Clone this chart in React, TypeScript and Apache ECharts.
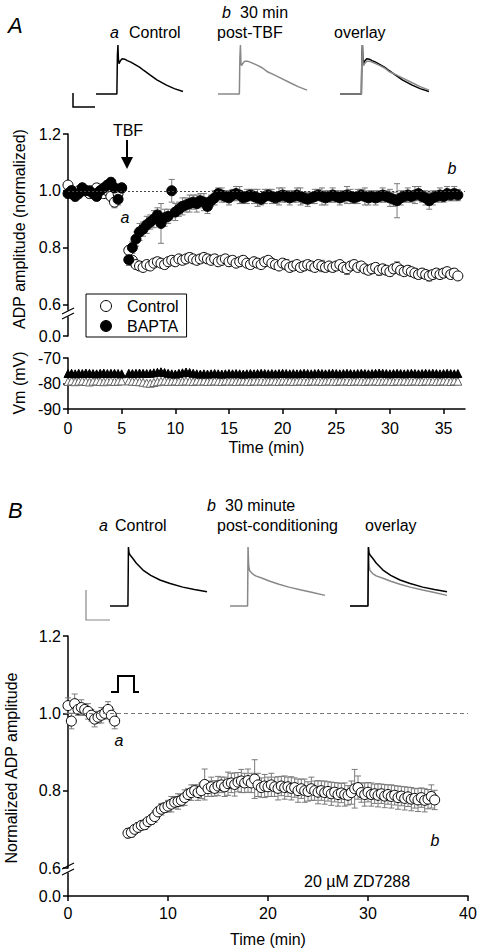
import React, { useEffect, useRef } from 'react';
import * as echarts from 'echarts';

const FONT = '"Liberation Sans", Arial, Helvetica, sans-serif';
const STEP = 1 / 3; // sampling interval, minutes

// ---------- Panel A: ADP amplitude (normalized) ----------
const A_BASE_START = 0;
const A_POST_START = 5.667;
const A_CTRL_BASE = [1.02, 1.0, 0.99, 1.0, 1.01, 1.0, 0.99, 1.0, 1.01, 1.0, 0.99, 1.0, 0.98, 0.96, 0.99, 1.01];
const A_CTRL_BASE_ERR = [0.01, 0.01, 0.012, 0.01, 0.01, 0.012, 0.01, 0.01, 0.012, 0.01, 0.01, 0.012, 0.015, 0.02, 0.012, 0.01];
const A_BAPTA_BASE = [0.99, 1.0, 0.98, 0.99, 1.01, 1.0, 1.0, 0.99, 0.98, 1.0, 1.01, 1.02, 1.03, 1.01, 0.97, 1.01];
const A_BAPTA_BASE_ERR = [0.012, 0.01, 0.015, 0.012, 0.01, 0.012, 0.015, 0.01, 0.012, 0.015, 0.01, 0.012, 0.015, 0.012, 0.02, 0.012];
const A_CTRL_POST = [
  0.79, 0.755, 0.74, 0.735, 0.73, 0.74, 0.735, 0.745, 0.75, 0.745,
  0.74, 0.75, 0.755, 0.75, 0.76, 0.755, 0.76, 0.765, 0.76, 0.755,
  0.76, 0.765, 0.76, 0.755, 0.76, 0.75, 0.755, 0.76, 0.75, 0.755,
  0.745, 0.75, 0.755, 0.745, 0.74, 0.75, 0.745, 0.74, 0.75, 0.755,
  0.745, 0.74, 0.735, 0.745, 0.74, 0.73, 0.735, 0.74, 0.73, 0.735,
  0.74, 0.735, 0.73, 0.74, 0.735, 0.73, 0.735, 0.73, 0.735, 0.74,
  0.73, 0.725, 0.735, 0.74, 0.73, 0.735, 0.725, 0.72, 0.725, 0.73,
  0.72, 0.725, 0.72, 0.715, 0.725, 0.73, 0.72, 0.715, 0.72, 0.715,
  0.71, 0.705, 0.71, 0.705, 0.7, 0.705, 0.71, 0.705, 0.71, 0.715,
  0.705, 0.71, 0.7,
];
const A_CTRL_POST_ERR = [
  0.015, 0.012, 0.01, 0.012, 0.01, 0.012, 0.01, 0.012, 0.01, 0.012,
  0.01, 0.012, 0.015, 0.01, 0.012, 0.01, 0.012, 0.015, 0.01, 0.012,
  0.01, 0.012, 0.01, 0.015, 0.012, 0.01, 0.012, 0.01, 0.015, 0.012,
  0.01, 0.012, 0.015, 0.01, 0.012, 0.015, 0.012, 0.01, 0.015, 0.012,
  0.01, 0.015, 0.012, 0.01, 0.018, 0.012, 0.015, 0.01, 0.012, 0.015,
  0.012, 0.015, 0.01, 0.012, 0.02, 0.015, 0.012, 0.015, 0.01, 0.012,
  0.015, 0.02, 0.012, 0.015, 0.012, 0.01, 0.015, 0.012, 0.015, 0.012,
  0.018, 0.015, 0.012, 0.015, 0.012, 0.02, 0.015, 0.012, 0.015, 0.012,
  0.015, 0.012, 0.015, 0.012, 0.018, 0.015, 0.012, 0.015, 0.012, 0.015,
  0.012, 0.015, 0.012,
];
const A_BAPTA_POST = [
  0.757, 0.8, 0.83, 0.855, 0.865, 0.88, 0.89, 0.9, 0.915, 0.885,
  0.905, 0.91, 1.0, 0.925, 0.935, 0.945, 0.95, 0.955, 0.96, 0.955,
  0.965, 0.96, 0.945, 0.965, 0.975, 0.99, 0.985, 0.98, 0.975, 0.985,
  0.99, 0.985, 0.975, 0.98, 0.985, 0.98, 0.975, 0.97, 0.98, 0.985,
  0.98, 0.975, 0.98, 0.985, 0.98, 0.975, 0.98, 0.985, 0.98, 0.975,
  0.97, 0.975, 0.98, 0.985, 0.98, 0.975, 0.98, 0.985, 0.98, 0.975,
  0.98, 0.985, 0.98, 0.975, 0.98, 0.985, 0.98, 0.975, 0.98, 0.975,
  0.98, 0.985, 0.98, 0.975, 0.97, 0.965, 0.975, 0.98, 0.985, 0.98,
  0.985, 0.99, 0.98, 0.975, 0.965, 0.975, 0.98, 0.985, 0.98, 0.99,
  0.985, 0.99, 0.985,
];
const A_BAPTA_POST_ERR = [
  0.02, 0.02, 0.025, 0.03, 0.025, 0.03, 0.025, 0.03, 0.025, 0.07,
  0.03, 0.025, 0.04, 0.03, 0.025, 0.03, 0.025, 0.03, 0.025, 0.03,
  0.025, 0.03, 0.025, 0.02, 0.025, 0.02, 0.025, 0.02, 0.025, 0.02,
  0.025, 0.03, 0.02, 0.025, 0.02, 0.025, 0.03, 0.02, 0.025, 0.02,
  0.025, 0.02, 0.03, 0.025, 0.02, 0.025, 0.02, 0.025, 0.03, 0.02,
  0.025, 0.02, 0.025, 0.02, 0.03, 0.025, 0.02, 0.025, 0.02, 0.025,
  0.02, 0.03, 0.025, 0.02, 0.025, 0.02, 0.03, 0.025, 0.02, 0.025,
  0.02, 0.025, 0.02, 0.03, 0.025, 0.06, 0.025, 0.02, 0.025, 0.02,
  0.03, 0.025, 0.02, 0.025, 0.03, 0.025, 0.02, 0.025, 0.02, 0.025,
  0.02, 0.025, 0.02,
];

// ---------- Panel A: membrane potential Vm (mV) ----------
const VM_CTRL_BASE = [-79.2, -79.0, -79.3, -79.1, -79.0, -79.2, -79.4, -79.1, -79.0, -79.2, -79.3, -79.1, -79.0, -79.2, -79.1, -79.0];
const VM_BAPTA_BASE = [-76.1, -76.0, -76.2, -76.0, -76.1, -75.9, -76.0, -76.1, -76.2, -76.0, -75.9, -76.1, -76.0, -76.0, -76.1, -76.2];
const VM_CTRL_POST = [
  -79.0, -79.1, -79.2, -79.3, -79.5, -79.8, -79.9, -79.6, -79.3, -79.1,
  -79.0, -79.2, -79.1, -79.0, -79.2, -79.1, -79.0, -79.1, -79.2, -79.0,
  -79.1, -79.0, -79.2, -79.1, -79.0, -79.1, -79.2, -79.0, -79.1, -79.0,
  -79.2, -79.1, -79.0, -79.1, -79.2, -79.0, -79.1, -79.0, -79.2, -79.1,
  -79.0, -79.1, -79.2, -79.0, -79.1, -79.0, -79.2, -79.1, -79.0, -79.1,
  -79.2, -79.0, -79.1, -79.0, -79.2, -79.1, -79.0, -79.1, -79.2, -79.0,
  -79.1, -79.0, -79.2, -79.1, -79.0, -79.1, -79.2, -79.0, -79.1, -79.0,
  -79.2, -79.1, -79.0, -79.1, -79.2, -79.0, -79.1, -79.0, -79.2, -79.1,
  -79.0, -79.1, -79.2, -79.0, -79.1, -79.0, -79.2, -79.1, -79.0, -79.1,
  -79.2, -79.0, -79.1,
];
const VM_BAPTA_POST = [
  -76.0, -76.1, -76.0, -75.9, -76.0, -76.1, -76.0, -75.8, -75.6, -75.4,
  -75.7, -76.0, -76.2, -76.3, -76.0, -75.8, -75.5, -75.7, -76.0, -76.2,
  -76.3, -76.2, -76.3, -76.2, -76.1, -76.2, -76.3, -76.2, -76.1, -76.2,
  -76.1, -76.2, -76.3, -76.2, -76.1, -76.2, -76.1, -76.0, -76.1, -76.2,
  -76.1, -76.2, -76.1, -76.0, -76.1, -76.2, -76.1, -76.2, -76.1, -76.0,
  -76.1, -76.2, -76.1, -76.0, -76.1, -76.2, -76.1, -76.0, -76.1, -76.2,
  -76.1, -76.0, -76.1, -76.2, -76.1, -76.0, -76.1, -76.2, -76.1, -76.0,
  -75.9, -76.0, -76.1, -76.2, -76.1, -76.0, -76.1, -76.2, -76.1, -76.0,
  -76.1, -76.2, -76.1, -76.0, -76.1, -76.0, -76.1, -76.2, -76.1, -76.0,
  -76.1, -76.2, -76.1,
];

// ---------- Panel B: normalized ADP amplitude (ZD7288) ----------
const B_BASE_START = 0;
const B_POST_START = 6.0;
const B_BASE = [1.02, 0.98, 1.025, 1.01, 1.015, 1.01, 1.005, 0.995, 0.985, 0.99, 0.995, 1.0, 1.01, 0.995, 0.98];
const B_BASE_ERR = [0.02, 0.02, 0.025, 0.015, 0.02, 0.015, 0.02, 0.015, 0.02, 0.015, 0.02, 0.015, 0.02, 0.015, 0.02];
const B_POST = [
  0.69, 0.692, 0.7, 0.705, 0.71, 0.712, 0.72, 0.725, 0.733, 0.745,
  0.752, 0.756, 0.76, 0.765, 0.77, 0.772, 0.775, 0.782, 0.79, 0.795,
  0.8, 0.795, 0.8, 0.816, 0.805, 0.81, 0.806, 0.812, 0.815, 0.81,
  0.818, 0.82, 0.816, 0.822, 0.825, 0.82, 0.826, 0.82, 0.83, 0.815,
  0.808, 0.812, 0.81, 0.815, 0.81, 0.806, 0.812, 0.808, 0.81, 0.806,
  0.808, 0.8, 0.805, 0.8, 0.798, 0.805, 0.8, 0.796, 0.8, 0.795,
  0.798, 0.792, 0.796, 0.79, 0.794, 0.79, 0.788, 0.795, 0.805, 0.808,
  0.795, 0.79, 0.796, 0.79, 0.792, 0.788, 0.792, 0.786, 0.79, 0.785,
  0.788, 0.782, 0.786, 0.78, 0.784, 0.778, 0.78, 0.776, 0.782, 0.775,
  0.778, 0.785, 0.776,
];
const B_POST_ERR = [
  0.012, 0.012, 0.01, 0.012, 0.01, 0.012, 0.01, 0.012, 0.015, 0.012,
  0.015, 0.012, 0.015, 0.02, 0.015, 0.02, 0.015, 0.02, 0.015, 0.02,
  0.015, 0.02, 0.02, 0.04, 0.02, 0.025, 0.02, 0.025, 0.02, 0.025,
  0.03, 0.025, 0.03, 0.025, 0.03, 0.025, 0.03, 0.025, 0.05, 0.03,
  0.025, 0.03, 0.025, 0.03, 0.025, 0.03, 0.025, 0.03, 0.025, 0.03,
  0.025, 0.03, 0.025, 0.03, 0.025, 0.03, 0.025, 0.03, 0.025, 0.03,
  0.025, 0.03, 0.025, 0.03, 0.025, 0.03, 0.025, 0.03, 0.05, 0.03,
  0.025, 0.03, 0.025, 0.03, 0.025, 0.03, 0.025, 0.03, 0.025, 0.03,
  0.025, 0.03, 0.025, 0.03, 0.025, 0.03, 0.025, 0.03, 0.025, 0.03,
  0.025, 0.03, 0.025,
];

// ---------- Example traces (normalized to spike peak) ----------
const TRACE_A_T = [0, 24, 24.6, 25.2, 25.8, 26.5, 28, 30, 33, 36, 40, 45, 50, 55, 62, 70, 81, 90, 100];
const TRACE_A_CTRL = [0, 0, 0.78, 1.0, 0.7, 0.62, 0.68, 0.72, 0.71, 0.68, 0.65, 0.6, 0.55, 0.48, 0.39, 0.29, 0.18, 0.11, 0.05];
const TRACE_A_POST = [0, 0, 0.75, 1.0, 0.62, 0.58, 0.63, 0.67, 0.67, 0.65, 0.62, 0.58, 0.53, 0.46, 0.4, 0.33, 0.23, 0.15, 0.08];
const TRACE_B_T = [0, 18.5, 19, 19.6, 20.5, 23.4, 27, 34, 42, 51.5, 62, 75, 87, 100];
const TRACE_B_CTRL = [0, 0, 1.0, 0.9, 0.87, 0.81, 0.73, 0.61, 0.52, 0.44, 0.38, 0.32, 0.28, 0.24];
const TRACE_B_POST = [0, 0, 1.0, 0.7, 0.6, 0.55, 0.51, 0.47, 0.42, 0.37, 0.32, 0.27, 0.23, 0.18];

// ---------- Tick labels ----------
const A_Y_TICKS = [0.6, 0.8, 1.0, 1.2];
const VM_Y_TICKS = [-90, -80, -70];
const A_X_TICKS = [0, 5, 10, 15, 20, 25, 30, 35];
const B_Y_TICKS = [0.6, 0.8, 1.0, 1.2];
const B_X_TICKS = [0, 10, 20, 30, 40];

const pts = (start: number, vals: number[], errs?: number[]) =>
  vals.map((v, i) => [Math.round((start + i * STEP) * 1000) / 1000, v, errs ? errs[i] : 0]);
const tracePts = (t: number[], v: number[]) => t.map((x, i) => [x, v[i]]);

const A_CTRL = [...pts(A_BASE_START, A_CTRL_BASE, A_CTRL_BASE_ERR), ...pts(A_POST_START, A_CTRL_POST, A_CTRL_POST_ERR)];
const A_BAPTA = [...pts(A_BASE_START, A_BAPTA_BASE, A_BAPTA_BASE_ERR), ...pts(A_POST_START, A_BAPTA_POST, A_BAPTA_POST_ERR)];
const VM_CTRL = [...pts(A_BASE_START, VM_CTRL_BASE), ...pts(A_POST_START, VM_CTRL_POST)];
const VM_BAPTA = [...pts(A_BASE_START, VM_BAPTA_BASE), ...pts(A_POST_START, VM_BAPTA_POST)];
const B_ALL = [...pts(B_BASE_START, B_BASE, B_BASE_ERR), ...pts(B_POST_START, B_POST, B_POST_ERR)];

const errRender = (_params: any, api: any) => {
  const x = api.value(0);
  const y = api.value(1);
  const e = api.value(2);
  const hi = api.coord([x, y + e]);
  const lo = api.coord([x, y - e]);
  const cw = 3;
  const style = { stroke: '#7a7a7a', lineWidth: 1 };
  return {
    type: 'group',
    children: [
      { type: 'line', shape: { x1: hi[0], y1: hi[1], x2: lo[0], y2: lo[1] }, style },
      { type: 'line', shape: { x1: hi[0] - cw, y1: hi[1], x2: hi[0] + cw, y2: hi[1] }, style },
      { type: 'line', shape: { x1: lo[0] - cw, y1: lo[1], x2: lo[0] + cw, y2: lo[1] }, style },
    ],
  };
};

const FS = 16;
const axisLine = { show: true, lineStyle: { color: '#000', width: 1.5 } };
const axisTickBase = { show: true, length: 5, inside: false, lineStyle: { color: '#000', width: 1.5 } };
const labelBase = { fontSize: FS, color: '#000', fontFamily: FONT };

const txt = (text: string, x: number, y: number, extra: any = {}) => ({
  type: 'text',
  x,
  y,
  silent: true,
  style: { text, fontSize: FS, fontFamily: FONT, fill: '#000', align: 'left', verticalAlign: 'middle', ...extra },
});
const seg = (x1: number, y1: number, x2: number, y2: number, stroke = '#000', lineWidth = 1.5) => ({
  type: 'line',
  silent: true,
  shape: { x1, y1, x2, y2 },
  style: { stroke, lineWidth },
});

export default function App() {
  const ref = useRef<HTMLDivElement>(null);

  useEffect(() => {
    if (!ref.current) return;
    const chart = echarts.init(ref.current, undefined, { renderer: 'svg' });

    const grids = [
      { left: 68, top: 134, width: 397, height: 176 }, // 0 A main
      { left: 68, top: 317, width: 397, height: 19 }, // 1 A zero
      { left: 68, top: 358, width: 397, height: 51 }, // 2 Vm
      { left: 68, top: 636, width: 400, height: 232 }, // 3 B main
      { left: 68, top: 873, width: 400, height: 23 }, // 4 B zero
      { left: 96, top: 45, width: 87, height: 49 }, // 5 trace A a
      { left: 218, top: 45, width: 89, height: 49 }, // 6 trace A b
      { left: 340, top: 45, width: 89, height: 49 }, // 7 trace A overlay
      { left: 110, top: 547, width: 97, height: 59 }, // 8 trace B a
      { left: 230, top: 547, width: 95, height: 59 }, // 9 trace B b
      { left: 350, top: 547, width: 97, height: 59 }, // 10 trace B overlay
    ].map((g) => ({ ...g, containLabel: false, outerBoundsMode: 'none' }));

    const hiddenX = (i: number, max: number) => ({ type: 'value', gridIndex: i, min: 0, max, show: false });
    const hiddenY = (i: number, min: number, max: number) => ({ type: 'value', gridIndex: i, min, max, show: false });

    const xAxis = [
      hiddenX(0, 37),
      hiddenX(1, 37),
      {
        type: 'value', gridIndex: 2, min: 0, max: 37,
        axisLine, splitLine: { show: false },
        axisTick: { ...axisTickBase, customValues: A_X_TICKS },
        axisLabel: { ...labelBase, margin: 11, customValues: A_X_TICKS },
        name: 'Time (min)', nameLocation: 'middle', nameGap: 30,
        nameTextStyle: { fontSize: FS, fontFamily: FONT, color: '#000' },
      },
      hiddenX(3, 40),
      {
        type: 'value', gridIndex: 4, min: 0, max: 40,
        axisLine, splitLine: { show: false },
        axisTick: { ...axisTickBase, customValues: B_X_TICKS },
        axisLabel: { ...labelBase, margin: 9, customValues: B_X_TICKS },
        name: 'Time (min)', nameLocation: 'middle', nameGap: 35,
        nameTextStyle: { fontSize: FS, fontFamily: FONT, color: '#000' },
      },
      hiddenX(5, 100), hiddenX(6, 100), hiddenX(7, 100),
      hiddenX(8, 100), hiddenX(9, 100), hiddenX(10, 100),
    ];

    const yAxis = [
      {
        type: 'value', gridIndex: 0, min: 0.58, max: 1.2,
        axisLine, splitLine: { show: false },
        axisTick: { ...axisTickBase, customValues: A_Y_TICKS },
        axisLabel: { ...labelBase, margin: 7, customValues: A_Y_TICKS, formatter: (v: number) => v.toFixed(1) },
      },
      {
        type: 'value', gridIndex: 1, min: 0, max: 0.1,
        axisLine, splitLine: { show: false },
        axisTick: { ...axisTickBase, customValues: [0] },
        axisLabel: { ...labelBase, margin: 7, customValues: [0], formatter: (v: number) => v.toFixed(1) },
      },
      {
        type: 'value', gridIndex: 2, min: -90, max: -70,
        axisLine, splitLine: { show: false },
        axisTick: { ...axisTickBase, customValues: VM_Y_TICKS },
        axisLabel: { ...labelBase, margin: 7, customValues: VM_Y_TICKS },
      },
      {
        type: 'value', gridIndex: 3, min: 0.6, max: 1.2,
        axisLine, splitLine: { show: false },
        axisTick: { ...axisTickBase, customValues: B_Y_TICKS },
        axisLabel: { ...labelBase, margin: 7, customValues: B_Y_TICKS, formatter: (v: number) => v.toFixed(1) },
      },
      {
        type: 'value', gridIndex: 4, min: 0, max: 0.1,
        axisLine, splitLine: { show: false },
        axisTick: { ...axisTickBase, customValues: [0] },
        axisLabel: { ...labelBase, margin: 7, customValues: [0], formatter: (v: number) => v.toFixed(1) },
      },
      hiddenY(5, 0, 1), hiddenY(6, 0, 1), hiddenY(7, 0, 1),
      hiddenY(8, 0, 1), hiddenY(9, 0, 1), hiddenY(10, 0, 1),
    ];

    const errSeries = (name: string, idx: number, data: number[][]) => ({
      type: 'custom', name, xAxisIndex: idx, yAxisIndex: idx, data,
      encode: { x: 0, y: 1 }, renderItem: errRender, clip: false, silent: true,
    });
    const traceLine = (idx: number, t: number[], v: number[], color: string) => ({
      type: 'line', xAxisIndex: idx, yAxisIndex: idx, data: tracePts(t, v),
      showSymbol: false, symbol: 'none', clip: false, silent: true,
      lineStyle: { color, width: 1.5 },
    });
    const openStyle = { color: '#fff', borderColor: '#000', borderWidth: 1, opacity: 1 };
    const filledStyle = { color: '#000', borderColor: '#000', borderWidth: 1, opacity: 1 };

    const series: any[] = [
      errSeries('Control SEM', 0, A_CTRL),
      errSeries('BAPTA SEM', 0, A_BAPTA),
      {
        type: 'scatter', name: 'Control', xAxisIndex: 0, yAxisIndex: 0,
        data: A_CTRL.map((d) => [d[0], d[1]]), symbol: 'circle', symbolSize: 10,
        itemStyle: openStyle,
        markLine: {
          silent: true, symbol: 'none', label: { show: false },
          lineStyle: { color: '#444', type: [2, 2], width: 1 },
          data: [{ yAxis: 1.0 }],
        },
      },
      {
        type: 'scatter', name: 'BAPTA', xAxisIndex: 0, yAxisIndex: 0,
        data: A_BAPTA.map((d) => [d[0], d[1]]), symbol: 'circle', symbolSize: 10,
        itemStyle: filledStyle,
      },
      {
        type: 'scatter', name: 'Vm Control', xAxisIndex: 2, yAxisIndex: 2,
        data: VM_CTRL.map((d) => [d[0], d[1]]), symbol: 'triangle', symbolSize: 8,
        itemStyle: { color: '#fff', borderColor: '#666', borderWidth: 1, opacity: 1 },
      },
      {
        type: 'scatter', name: 'Vm BAPTA', xAxisIndex: 2, yAxisIndex: 2,
        data: VM_BAPTA.map((d) => [d[0], d[1]]), symbol: 'triangle', symbolSize: 8,
        itemStyle: filledStyle,
      },
      errSeries('ZD7288 SEM', 3, B_ALL),
      {
        type: 'scatter', name: 'ZD7288', xAxisIndex: 3, yAxisIndex: 3,
        data: B_ALL.map((d) => [d[0], d[1]]), symbol: 'circle', symbolSize: 10,
        itemStyle: openStyle,
        markLine: {
          silent: true, symbol: 'none', label: { show: false },
          lineStyle: { color: '#777', type: [4, 3], width: 1 },
          data: [{ yAxis: 1.0 }],
        },
      },
      traceLine(5, TRACE_A_T, TRACE_A_CTRL, '#000'),
      traceLine(6, TRACE_A_T, TRACE_A_POST, '#888'),
      traceLine(7, TRACE_A_T, TRACE_A_CTRL, '#000'),
      traceLine(7, TRACE_A_T, TRACE_A_POST, '#888'),
      traceLine(8, TRACE_B_T, TRACE_B_CTRL, '#000'),
      traceLine(9, TRACE_B_T, TRACE_B_POST, '#888'),
      traceLine(10, TRACE_B_T, TRACE_B_POST, '#888'),
      traceLine(10, TRACE_B_T, TRACE_B_CTRL, '#000'),
    ];

    const graphic: any[] = [
      // Panel A header
      txt('A', 8, 25, { fontSize: 22, fontStyle: 'italic' }),
      txt('a', 110, 32, { fontStyle: 'italic' }),
      txt('Control', 129, 32),
      txt('b', 222, 12, { fontStyle: 'italic' }),
      txt('30 min', 240, 12),
      txt('post-TBF', 217, 32),
      txt('overlay', 334, 32),
      { type: 'polyline', silent: true, shape: { points: [[73, 93], [73, 107], [95, 107]] }, style: { stroke: '#000', lineWidth: 1.5, fill: null } },
      // TBF arrow
      txt('TBF', 128, 130, { align: 'center' }),
      seg(127, 140, 127, 160, '#000', 2),
      { type: 'polygon', silent: true, shape: { points: [[121, 157], [133, 157], [127, 169]] }, style: { fill: '#000' } },
      txt('a', 125, 217, { fontStyle: 'italic', align: 'center' }),
      txt('b', 452, 168, { fontStyle: 'italic', align: 'center' }),
      // axis names (rotated)
      { ...txt('ADP amplitude (normalized)', 19, 229, { align: 'center' }), rotation: Math.PI / 2 },
      { ...txt('Vm (mV)', 19, 383, { align: 'center' }), rotation: Math.PI / 2 },
      { ...txt('Normalized ADP amplitude', 11, 768, { align: 'center' }), rotation: Math.PI / 2 },
      // axis breaks
      seg(62, 314, 74, 308, '#000', 1.2),
      seg(62, 319, 74, 313, '#000', 1.2),
      seg(62, 869, 74, 863, '#000', 1.2),
      seg(62, 875, 74, 869, '#000', 1.2),
      // Panel B header
      txt('B', 8, 510, { fontSize: 22, fontStyle: 'italic' }),
      txt('b', 207, 505, { fontStyle: 'italic' }),
      txt('30 minute', 225, 505),
      txt('a', 99, 525, { fontStyle: 'italic' }),
      txt('Control', 115, 525),
      txt('post-conditioning', 217, 525),
      txt('overlay', 365, 525),
      { type: 'polyline', silent: true, shape: { points: [[86, 590], [86, 620], [110, 620]] }, style: { stroke: '#888', lineWidth: 1.2, fill: null } },
      // conditioning pulse symbol
      { type: 'polyline', silent: true, shape: { points: [[111, 692], [118, 692], [118, 676], [134, 676], [134, 692], [139, 692]] }, style: { stroke: '#000', lineWidth: 2, fill: null } },
      txt('a', 119, 740, { fontStyle: 'italic', align: 'center' }),
      txt('b', 435, 840, { fontStyle: 'italic', align: 'center' }),
      txt('20 \u00b5M ZD7288', 304, 881),
    ];

    chart.setOption({
      animation: false,
      backgroundColor: '#fff',
      textStyle: { fontFamily: FONT, color: '#000' },
      grid: grids,
      xAxis,
      yAxis,
      series,
      graphic,
      legend: {
        left: 86, top: 294, orient: 'vertical',
        padding: [4, 8, 3, 14], itemGap: 4, itemWidth: 32, itemHeight: 11,
        borderColor: '#000', borderWidth: 1, backgroundColor: '#fff',
        selectedMode: false,
        textStyle: { fontSize: FS, fontFamily: FONT, color: '#000', lineHeight: 16 },
        data: [
          { name: 'Control', icon: 'circle', itemStyle: openStyle },
          { name: 'BAPTA', icon: 'circle', itemStyle: filledStyle },
        ],
      },
    });

    return () => chart.dispose();
  }, []);

  return <div ref={ref} style={{ position: 'absolute', left: 0, top: 0, width: 478, height: 950 }} />;
}
